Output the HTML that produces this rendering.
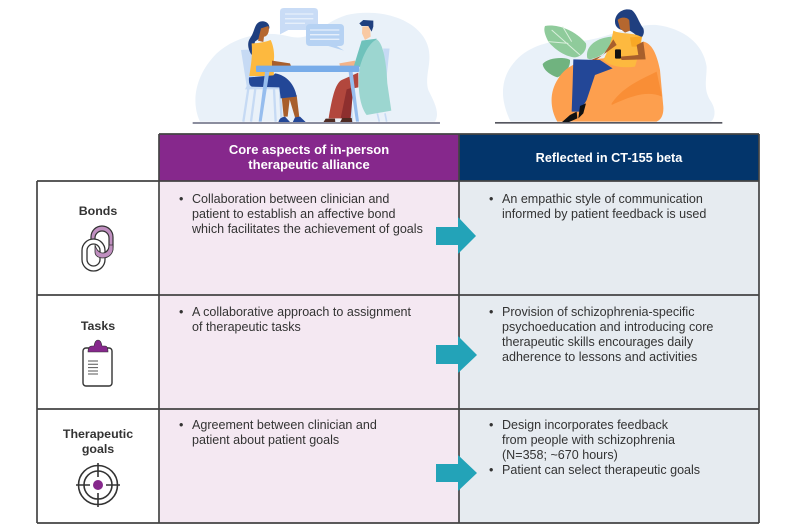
<!DOCTYPE html>
<html><head><meta charset="utf-8"><style>
html,body{margin:0;padding:0;background:#fff}
svg{display:block}
text{font-family:"Liberation Sans",sans-serif;font-size:12.55px;fill:#333}
.b{font-weight:bold;font-size:12.4px}.w{fill:#fff;font-weight:bold;font-size:12.7px}.h{font-size:13px}
</style></head><body>
<svg width="800" height="529" viewBox="0 0 800 529" xmlns="http://www.w3.org/2000/svg">
<rect width="800" height="529" fill="#fff"/>
<g transform="translate(180,0) scale(.3333)">
<path d="M60 365C30 300 50 220 110 160C170 105 260 90 330 110C400 125 420 70 500 45C590 25 690 50 730 110C770 170 730 220 745 270C765 310 780 340 765 365Z" fill="#e9f1f9"/>
<path d="M300 35Q300 24 312 24H402Q414 24 414 35V78Q414 90 402 90H325L300 103Z" fill="#c9dcf6"/>
<path d="M378 84Q378 72 390 72H480Q492 72 492 84V126Q492 138 480 138H470L492 152L445 138H390Q378 138 378 126Z" fill="#b6d2f3"/>
<path d="M315 42H400M315 56H400M315 70H375M390 90H478M390 104H478M390 118H478" stroke="#e6effb" stroke-width="4"/>
<path d="M183 150L215 148L224 258H300V268H195L200 258Z" fill="#c6daf4"/>
<path d="M205 266L190 365M226 266L213 365M282 266L287 365M300 266L305 365" stroke="#c6daf4" stroke-width="7" fill="none"/>
<path d="M240 65C255 60 270 70 268 85L245 110L225 125L220 145L215 165C205 150 200 130 210 115C225 95 222 72 240 65Z" fill="#1f3f7f"/>
<path d="M243 85L265 78C270 90 264 110 252 110L250 126L234 122Z" fill="#b5672f"/>
<path d="M215 130C235 130 260 125 272 120C282 140 285 170 280 190L282 228H208C212 200 218 170 215 130Z" fill="#fdb93f"/>
<path d="M276 182L330 190L333 198L276 198Z" fill="#a85f2c"/>
<path d="M305 290H330L323 350H311ZM325 285H350L358 352H345Z" fill="#a85f2c"/>
<path d="M207 232L280 226L285 220C320 225 345 255 350 290L302 295L298 262L215 260Q205 255 207 232Z" fill="#234797"/>
<path d="M295 367Q298 352 315 350L331 367ZM338 367L345 352L360 350L378 367Z" fill="#234797"/>
<path d="M612 148H626L617 235ZM592 340L598 365M615 340L620 365M510 262L517 365" fill="#c6daf4" stroke="#c6daf4" stroke-width="5"/>
<path d="M547 80L570 78L572 110L555 120L546 100Z" fill="#f9c9a3"/>
<path d="M538 70L550 60L580 62L580 80L575 95L565 78L545 78Z" fill="#1f3f7f"/>
<path d="M478 190L525 182L530 198H480Z" fill="#f3b389"/>
<path d="M545 122L590 116L560 205L522 197Z" fill="#6fc2bb"/>
<path d="M590 118C612 130 620 200 622 250L634 332L560 345C540 320 530 260 540 200C548 170 565 130 590 118Z" fill="#9cd6d0"/>
<path d="M535 218V262L505 268L495 355H446C455 300 465 250 485 240Z" fill="#b2473d"/>
<path d="M500 268L520 262L512 355H482Z" fill="#8e2f2e"/>
<path d="M430 367L437 356H465L466 367ZM480 367L487 354H515L517 367Z" fill="#4f2b22"/>
<rect x="228" y="197" width="310" height="19" rx="3" fill="#78ace9"/>
<path d="M255 216H268L245 365H236ZM506 216H518L537 365H528Z" fill="#96bdee"/>
<rect x="38" y="366" width="742" height="6" fill="#8b8d9e"/>
</g>
<g transform="translate(480,0) scale(.3333)">
<path d="M92 365C60 300 60 240 100 190C140 140 200 125 260 120C340 140 440 70 530 75C610 85 670 130 680 200C680 240 670 265 690 300C715 335 700 365 690 365Z" fill="#e9f1f9"/>
<path d="M195 78C225 72 280 85 318 130C322 150 305 170 285 172C260 172 225 150 205 125C195 105 190 90 195 78Z" fill="#8fcb9b"/>
<path d="M215 90L300 165M248 80L275 125M205 125L265 130" stroke="#d9efdc" stroke-width="3"/>
<path d="M188 192C205 172 255 170 270 180C272 205 250 225 232 232C210 225 190 210 188 192Z" fill="#70b37f"/>
<path d="M322 175C315 145 340 115 395 110C400 135 375 170 330 178Z" fill="#8fcb9b"/>
<path d="M232 365C212 330 205 280 235 235C260 195 300 180 370 175L490 125C515 130 530 160 540 210L550 320Q552 355 530 365Z" fill="#fd9f4e"/>
<path d="M395 310C430 260 480 240 530 215L546 290C500 270 450 290 395 315Z" fill="#f98e36"/>
<path d="M405 65C405 40 430 22 455 30C470 40 475 65 490 85C495 100 488 110 480 118C465 100 455 95 445 90C425 95 405 85 405 65Z" fill="#1f3f7f"/>
<path d="M413 60C420 50 445 50 448 62L450 92L435 98L420 85Z" fill="#b5672f"/>
<path d="M400 92C425 105 460 95 486 112C480 150 470 185 465 200C430 205 390 200 370 180C385 150 395 120 400 92Z" fill="#fdb93f"/>
<path d="M450 112L486 110L478 140H455Z" fill="#f9a825"/>
<path d="M400 118L410 135L345 182H328L370 165ZM470 135L490 125L497 178L425 180L420 170L475 165Z" fill="#a85f2c"/>
<rect x="405" y="148" width="18" height="28" rx="3" fill="#111"/>
<path d="M280 178L360 180L398 205L345 225L320 300L300 335H275L278 250Z" fill="#234797"/>
<path d="M245 367L270 345L290 335L292 355L265 367ZM295 355L300 318L318 310L310 340Z" fill="#111"/>
<rect x="45" y="366" width="682" height="5" fill="#55565f"/>
</g>
<rect x="159" y="134" width="300" height="47" fill="#86288c"/>
<rect x="459" y="134" width="300" height="47" fill="#03356b"/>
<rect x="160" y="181" width="299" height="342" fill="#f4e8f2"/>
<rect x="459" y="181" width="300" height="342" fill="#e6ebf0"/>
<path d="M159 134V523M459 134V523M759 134V523M159 134H759M37 181H759M37 295H759M37 409H759M37 523H759M37 181V523" stroke="#444" stroke-width="1.7" fill="none"/>
<text class="w h" x="309" y="154" text-anchor="middle">Core aspects of in-person</text>
<text class="w h" x="309" y="169" text-anchor="middle">therapeutic alliance</text>
<text class="w" x="609" y="162" text-anchor="middle">Reflected in CT-155 beta</text>
<text class="b" x="98" y="215" text-anchor="middle">Bonds</text>
<text class="b" x="98" y="330" text-anchor="middle">Tasks</text>
<text class="b" x="98" y="438" text-anchor="middle">Therapeutic</text>
<text class="b" x="98" y="453" text-anchor="middle">goals</text>
<rect x="91" y="226" width="22" height="32" rx="11" fill="#c08fc0" stroke="#333" stroke-width="1.2"/>
<rect x="95" y="231" width="14" height="22" rx="7" fill="#fff" stroke="#333" stroke-width="1.2"/>
<rect x="82" y="239" width="23" height="32" rx="11.5" fill="#fff" stroke="#333" stroke-width="1.3"/>
<rect x="87" y="244" width="13" height="22" rx="6.5" fill="#fff" stroke="#333" stroke-width="1.3"/>
<path d="M95 245V252Q95 257 102 258Q111 258 113 250V245H109V247Q108 253 102 253Q97 252 95 245Z" fill="#c08fc0" stroke="#333" stroke-width=".8"/>
<rect x="83" y="348" width="29" height="38" rx="3" fill="#fff" stroke="#333" stroke-width="1.4"/>
<path d="M88 352Q88 346 92 346H94Q95 340 98 340Q101 340 102 346H105Q108 346 108 352Z" fill="#86288c" stroke="#333" stroke-width=".6"/>
<path d="M88 361H98M88 364.300H98M88 367.600H98M88 371H98M88 374H98" stroke="#555" stroke-width="1"/>
<g fill="none" stroke="#333" stroke-width="1.6">
<circle cx="98" cy="485" r="19.500"/><circle cx="98" cy="485" r="14"/>
<path d="M98 463V477M98 493V507M76 485H90M106 485H120"/>
</g>
<circle cx="98" cy="485" r="5" fill="#86288c"/>
<g id="t">
<text x="179" y="203">•</text><text x="192" y="203">Collaboration between clinician and</text>
<text x="192" y="218">patient to establish an affective bond</text>
<text x="192" y="233">which facilitates the achievement of goals</text>
<text x="489" y="203">•</text><text x="502" y="203">An empathic style of communication</text>
<text x="502" y="218">informed by patient feedback is used</text>
<text x="179" y="316">•</text><text x="192" y="316">A collaborative approach to assignment</text>
<text x="192" y="331">of therapeutic tasks</text>
<text x="489" y="316">•</text><text x="502" y="316">Provision of schizophrenia-specific</text>
<text x="502" y="331">psychoeducation and introducing core</text>
<text x="502" y="346">therapeutic skills encourages daily</text>
<text x="502" y="361">adherence to lessons and activities</text>
<text x="179" y="429">•</text><text x="192" y="429">Agreement between clinician and</text>
<text x="192" y="444">patient about patient goals</text>
<text x="489" y="429">•</text><text x="502" y="429">Design incorporates feedback</text>
<text x="502" y="444">from people with schizophrenia</text>
<text x="502" y="459">(N=358; ~670 hours)</text>
<text x="489" y="474">•</text><text x="502" y="474">Patient can select therapeutic goals</text>
</g>
<g fill="#23a3b8">
<path d="M436 227H458V217L476 236L458 254V245H436Z"/>
<path d="M436 345H458V336L477 355L458 373V364H436Z"/>
<path d="M436 464H458V455L477 473L458 491V482H436Z"/>
</g>
</svg>
</body></html>
